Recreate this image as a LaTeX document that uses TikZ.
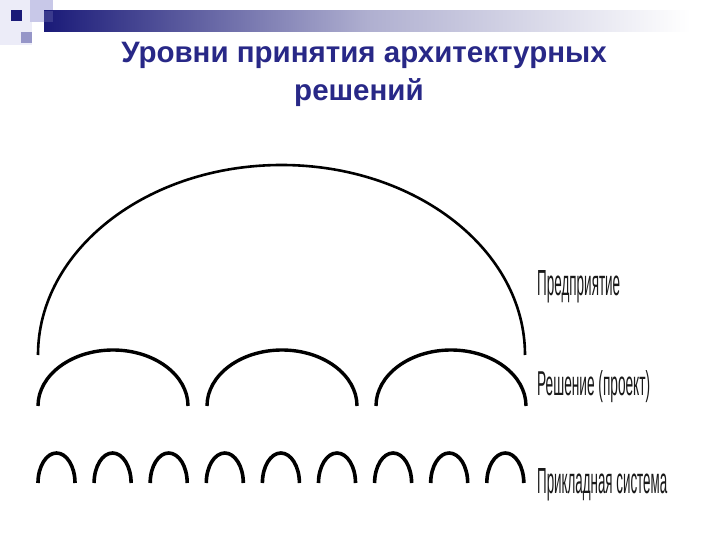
\documentclass[tikz,border=0pt]{standalone}
\usepackage{fontspec}
\setmainfont{Liberation Sans}
\definecolor{navy}{RGB}{26,26,120}
\definecolor{titleblue}{RGB}{40,40,135}
\definecolor{lav}{RGB}{200,200,232}
\definecolor{lav2}{RGB}{150,150,200}
\definecolor{faint}{RGB}{236,236,248}
\definecolor{ink}{RGB}{25,25,25}
\newcommand\lvllabel[2]{\resizebox{#1}{25pt}{\fontsize{20}{20}\selectfont #2}}
\tikzset{
  bigarc/.style={line width=2.6pt, black},
  midarc/.style={line width=3.4pt, black},
  smallarc/.style={line width=3.6pt, black},
  lvl/.style={anchor=base west, inner sep=0pt, text=ink},
  ttl/.style={anchor=base, inner sep=0pt, text=titleblue, font=\bfseries\fontsize{29.5}{34}\selectfont}
}
\begin{document}
\begin{tikzpicture}[x=1pt,y=-1pt]
\useasboundingbox (0,0) rectangle (720,540);
\fill[white] (0,0) rectangle (720,540);
% header decoration
\fill[faint] (0,0) rectangle (32,45);
\fill[lav] (30,0) rectangle (53,22);
\shade[left color=navy, right color=white, middle color=navy!35!white] (44,11) rectangle (690,32);
\fill[navy!70!lav, opacity=0.6] (44,11) rectangle (53,22);
\fill[navy] (11,10) rectangle (22,21);
\fill[lav2] (21,32) rectangle (32,43);
% title
\node[ttl] (t1) at (364,63) {Уровни принятия архитектурных};
\node[ttl] (t2) at (359,101) {решений};
% big arc
\draw[bigarc] (38,355) arc[start angle=180, end angle=360, x radius=243.5, y radius=190];
% medium arcs
\foreach \i in {0,1,2} {
  \draw[midarc] ({38+\i*169},406) arc[start angle=180, end angle=360, x radius=75, y radius=56];
}
% small arcs
\foreach \i in {0,...,8} {
  \draw[smallarc] ({38+\i*56.1},483) arc[start angle=180, end angle=360, x radius=18.5, y radius=30];
}
% labels
\node[lvl] (l1) at (537,295) {\lvllabel{83pt}{Предприятие}};
\node[lvl] (l2) at (537,395) {\lvllabel{113pt}{Решение (проект)}};
\node[lvl] (l3) at (537,493) {\lvllabel{130pt}{Прикладная система}};
\end{tikzpicture}
\end{document}
